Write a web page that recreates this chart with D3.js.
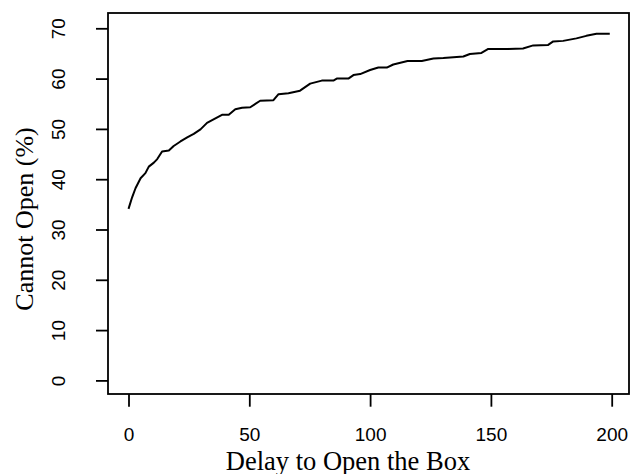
<!DOCTYPE html>
<html><head><meta charset="utf-8">
<script src="https://cdn.jsdelivr.net/npm/d3@7"></script>
<style>body{margin:0;background:#fff}svg{display:block}</style>
</head><body>
<script>
const delay = [0,1.5,2.9,5,7,8.4,10.5,11.9,13.9,16.7,18.7,21.5,24.3,27,29.8,32.5,35.2,38.7,41.5,44.2,47,50.4,54.5,60,62.1,66.2,71,75.2,80,84.8,86.2,91,93.1,95.9,100,103.4,106.9,109.6,115.5,121.4,126.2,130.3,133.1,138.6,141.3,146.1,148.9,157.2,163.3,167.5,173.7,175.8,179.9,185.4,189.5,193.7,199.2];
const cannotOpen = [34.1,36.4,38.2,40.2,41.2,42.5,43.3,44,45.5,45.7,46.6,47.5,48.3,49,49.9,51.2,51.9,52.8,52.8,53.9,54.2,54.3,55.6,55.7,56.9,57.1,57.6,59.0,59.6,59.6,60,60,60.7,60.9,61.7,62.2,62.2,62.8,63.5,63.5,64.0,64.1,64.2,64.4,64.9,65.1,65.9,65.9,66.0,66.6,66.7,67.4,67.5,68.0,68.5,68.9,68.9];
const xTicks = [0,50,100,150,200];
const yTicks = [0,10,20,30,40,50,60,70];

const W = 632, H = 474;
const box = {l:108, r:629, t:13, b:394};
const svg = d3.select("body").append("svg").attr("width",W).attr("height",H);
const x = d3.scaleLinear().domain([0,200]).range([128.5,611.7]);
const y = d3.scaleLinear().domain([0,70]).range([380.4,28.3]);

svg.append("rect").attr("x",box.l).attr("y",box.t).attr("width",box.r-box.l).attr("height",box.b-box.t)
  .attr("fill","none").attr("stroke","#000").attr("stroke-width",1.8);

const sans = "'Liberation Sans', Arial, sans-serif";
const serif = "'Liberation Serif', 'DejaVu Serif', serif";

const xa = svg.append("g").attr("transform",`translate(0,${box.b})`)
  .call(d3.axisBottom(x).tickValues(xTicks).tickSize(12.7).tickPadding(21).tickFormat(d3.format("d")));
xa.select(".domain").remove();
xa.selectAll("line").attr("stroke-width",1.8);
xa.selectAll("text").attr("font-family",sans).attr("font-size","19px").attr("fill","#000");

const ya = svg.append("g").attr("transform",`translate(${box.l},0)`)
  .call(d3.axisLeft(y).tickValues(yTicks).tickSize(12).tickFormat(d3.format("d")));
ya.select(".domain").remove();
ya.selectAll("line").attr("stroke-width",1.8);
ya.selectAll("text").attr("font-family",sans).attr("font-size","19px").attr("fill","#000")
  .attr("text-anchor","middle").attr("x",null).attr("y",0).attr("dy","0")
  .attr("transform","translate(-43,0) rotate(-90)");

const line = d3.line().x((d,i)=>x(delay[i])).y((d,i)=>y(cannotOpen[i]));
svg.append("path").datum(cannotOpen).attr("d",line).attr("fill","none").attr("stroke","#000")
  .attr("stroke-width",2).attr("stroke-linejoin","round");

svg.append("text").attr("x",348).attr("y",469.5).attr("text-anchor","middle")
  .attr("font-family",serif).attr("font-size","26.5px").attr("fill","#000")
  .text("Delay to Open the Box");
svg.append("text").attr("transform","translate(33,219) rotate(-90)").attr("text-anchor","middle")
  .attr("font-family",serif).attr("font-size","26px").attr("fill","#000")
  .text("Cannot Open (%)");
</script>
</body></html>
